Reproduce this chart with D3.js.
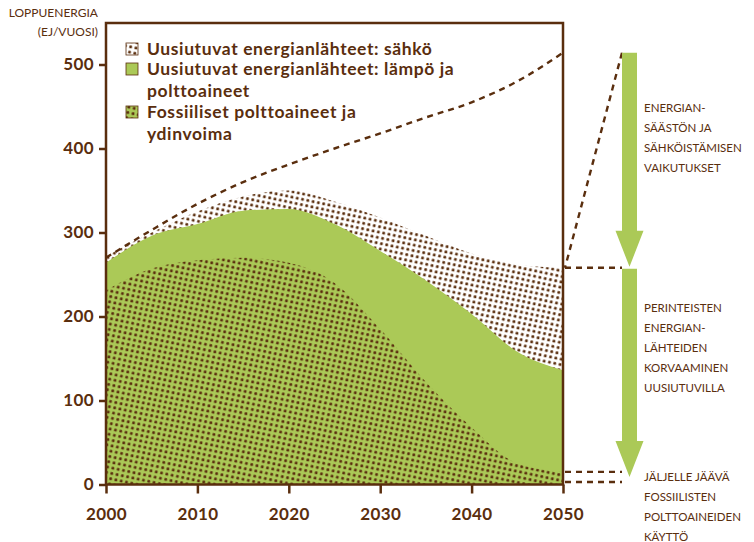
<!DOCTYPE html>
<html>
<head>
<meta charset="utf-8">
<script src="https://cdn.jsdelivr.net/npm/d3@7"></script>
<style>
  body { margin: 0; background: #fff; }
  svg { display: block; font-family: Lato, "Open Sans", sans-serif; }
</style>
</head>
<body>
<svg></svg>
<script>
let years = [2000, 2005, 2010, 2015, 2020, 2025, 2030, 2035, 2040, 2045, 2050];
// stacked tops (EJ/vuosi)
let fossil = [231, 257, 267, 270, 264, 240, 185, 122, 68, 25, 15];
let renewHeat = [264, 296, 310, 326, 328, 310, 278, 243, 203, 158, 136];
let renewElec = [272, 300, 325, 343, 350, 337, 318, 296, 275, 262, 258];
let baseline = [270, 303, 334, 360, 381, 400, 418, 437, 455, 480, 514];
let yTicks = [0, 100, 200, 300, 400, 500];
let xTicks = [2000, 2010, 2020, 2030, 2040, 2050];

let legendItems = [
  { fill: "url(#dotsWhite)", lines: ["Uusiutuvat energianlähteet: sähkö"] },
  { fill: "#abc957", lines: ["Uusiutuvat energianlähteet: lämpö ja", "polttoaineet"] },
  { fill: "url(#dotsGreen)", lines: ["Fossiiliset polttoaineet ja", "ydinvoima"] },
];
let noteTexts = [
  ["ENERGIAN-", "SÄÄSTÖN JA", "SÄHKÖISTÄMISEN", "VAIKUTUKSET"],
  ["PERINTEISTEN", "ENERGIAN-", "LÄHTEIDEN", "KORVAAMINEN", "UUSIUTUVILLA"],
  ["JÄLJELLE JÄÄVÄ", "FOSSIILISTEN", "POLTTOAINEIDEN", "KÄYTTÖ"],
];

let width = 754;
let height = 542;
let brown = "#5a2e0e";
let green = "#abc957";

let plotL = 106, plotR = 563, plotT = 23, plotB = 484.5;

let svg = d3.select("svg").attr("width", width).attr("height", height);

let xScale = d3.scaleLinear().domain([2000, 2050]).range([plotL, plotR]);
let yScale = d3.scaleLinear().domain([0, 500]).range([plotB, 64.5]);

// patterns
let defs = svg.append("defs");
let makePattern = (id, bg) => {
  let p = defs.append("pattern")
    .attr("id", id)
    .attr("patternUnits", "userSpaceOnUse")
    .attr("width", 5.4).attr("height", 5.4)
    .attr("patternTransform", "rotate(12)");
  p.append("rect").attr("width", 5.4).attr("height", 5.4).attr("fill", bg);
  p.append("rect").attr("x", 1.2).attr("y", 1.2).attr("width", 2.7).attr("height", 2.7)
    .attr("rx", 0.6).attr("fill", brown);
};
makePattern("dotsWhite", "#fff");
makePattern("dotsGreen", green);

defs.append("clipPath").attr("id", "plotClip")
  .append("rect").attr("x", plotL).attr("y", plotT).attr("width", plotR - plotL).attr("height", plotB - plotT);

let curve = d3.curveMonotoneX;
let areaOf = (tops) => d3.area()
  .x((d, i) => xScale(years[i]))
  .y0(yScale(0))
  .y1((d, i) => yScale(tops[i]))
  .curve(curve)(tops);

let plot = svg.append("g").attr("clip-path", "url(#plotClip)");
plot.append("path").attr("d", areaOf(renewElec)).attr("fill", "url(#dotsWhite)");
plot.append("path").attr("d", areaOf(renewHeat)).attr("fill", green);
plot.append("path").attr("d", areaOf(fossil)).attr("fill", "url(#dotsGreen)");

let line = d3.line().x((d, i) => xScale(years[i])).y((d) => yScale(d)).curve(curve);
plot.append("path").attr("d", line(baseline))
  .attr("fill", "none").attr("stroke", brown).attr("stroke-width", 2.4)
  .attr("stroke-dasharray", "6,5");

// frame
svg.append("rect")
  .attr("x", plotL).attr("y", plotT).attr("width", plotR - plotL).attr("height", plotB - plotT)
  .attr("fill", "none").attr("stroke", brown).attr("stroke-width", 2.5);

// axes
let yAxis = d3.axisLeft(yScale).tickValues(yTicks).tickSize(7).tickPadding(5);
let gy = svg.append("g").attr("transform", "translate(" + plotL + ",0)").call(yAxis);
let xAxis = d3.axisBottom(xScale).tickValues(xTicks).tickFormat(d3.format("d")).tickSize(9).tickPadding(14);
let gx = svg.append("g").attr("transform", "translate(0," + plotB + ")").call(xAxis);
[gx, gy].forEach((g) => {
  g.select(".domain").remove();
  g.selectAll("line").attr("stroke", brown).attr("stroke-width", 2.5);
  g.selectAll("text").attr("fill", brown).attr("font-size", 17).attr("font-weight", 700)
    .attr("font-family", "Lato, sans-serif").attr("letter-spacing", 0.4);
});

// y title
svg.append("text").attr("x", 98).attr("y", 17).attr("text-anchor", "end")
  .attr("fill", brown).attr("font-size", 12).text("LOPPUENERGIA");
svg.append("text").attr("x", 98).attr("y", 36).attr("text-anchor", "end")
  .attr("fill", brown).attr("font-size", 12).text("(EJ/VUOSI)");

// legend
let legendY = [55, 75, 118];
legendItems.forEach((item, i) => {
  let g = svg.append("g");
  g.append("rect").attr("x", 126).attr("y", legendY[i] - 12).attr("width", 12).attr("height", 12)
    .attr("fill", item.fill).attr("stroke", brown).attr("stroke-width", 0.8);
  item.lines.forEach((t, j) => {
    g.append("text").attr("x", 147).attr("y", legendY[i] + j * 21.5)
      .attr("fill", brown).attr("font-size", 17.5).attr("font-weight", 700)
      .attr("letter-spacing", 0.6).text(t);
  });
});

// right side annotations
let last = years.length - 1;
let arrowX = 629.5, stemW = 15, headW = 28, headH = 36;
let yTop = yScale(baseline[last]);
let yElec = yScale(renewElec[last]);
let yFossil = yScale(fossil[last]);
let yZero = yScale(3);

let dashStyle = (sel) => sel.attr("stroke", brown).attr("stroke-width", 2.4)
  .attr("stroke-dasharray", "6,5").attr("fill", "none");

svg.append("line").attr("x1", arrowX - stemW / 2).attr("y1", yTop)
  .attr("x2", plotR + 2).attr("y2", yElec).call(dashStyle);
[yElec, yFossil, yZero].forEach((yy) => {
  svg.append("line").attr("x1", plotR + 2).attr("x2", arrowX - stemW / 2)
    .attr("y1", yy).attr("y2", yy).call(dashStyle);
});

let drawArrow = (y0, y1) => {
  let p = d3.path();
  p.moveTo(arrowX - stemW / 2, y0);
  p.lineTo(arrowX + stemW / 2, y0);
  p.lineTo(arrowX + stemW / 2, y1 - headH);
  p.lineTo(arrowX + headW / 2, y1 - headH);
  p.lineTo(arrowX, y1);
  p.lineTo(arrowX - headW / 2, y1 - headH);
  p.lineTo(arrowX - stemW / 2, y1 - headH);
  p.closePath();
  svg.append("path").attr("d", p.toString()).attr("fill", green);
};
drawArrow(yTop, yElec - 1);
drawArrow(yElec + 1, (yFossil + yZero) / 2);

let noteY = [112, 312, 481];
noteTexts.forEach((lines, i) => {
  lines.forEach((t, j) => {
    svg.append("text").attr("x", 644).attr("y", noteY[i] + j * 20)
      .attr("fill", brown).attr("font-size", 11.5).text(t);
  });
});
</script>
</body>
</html>
